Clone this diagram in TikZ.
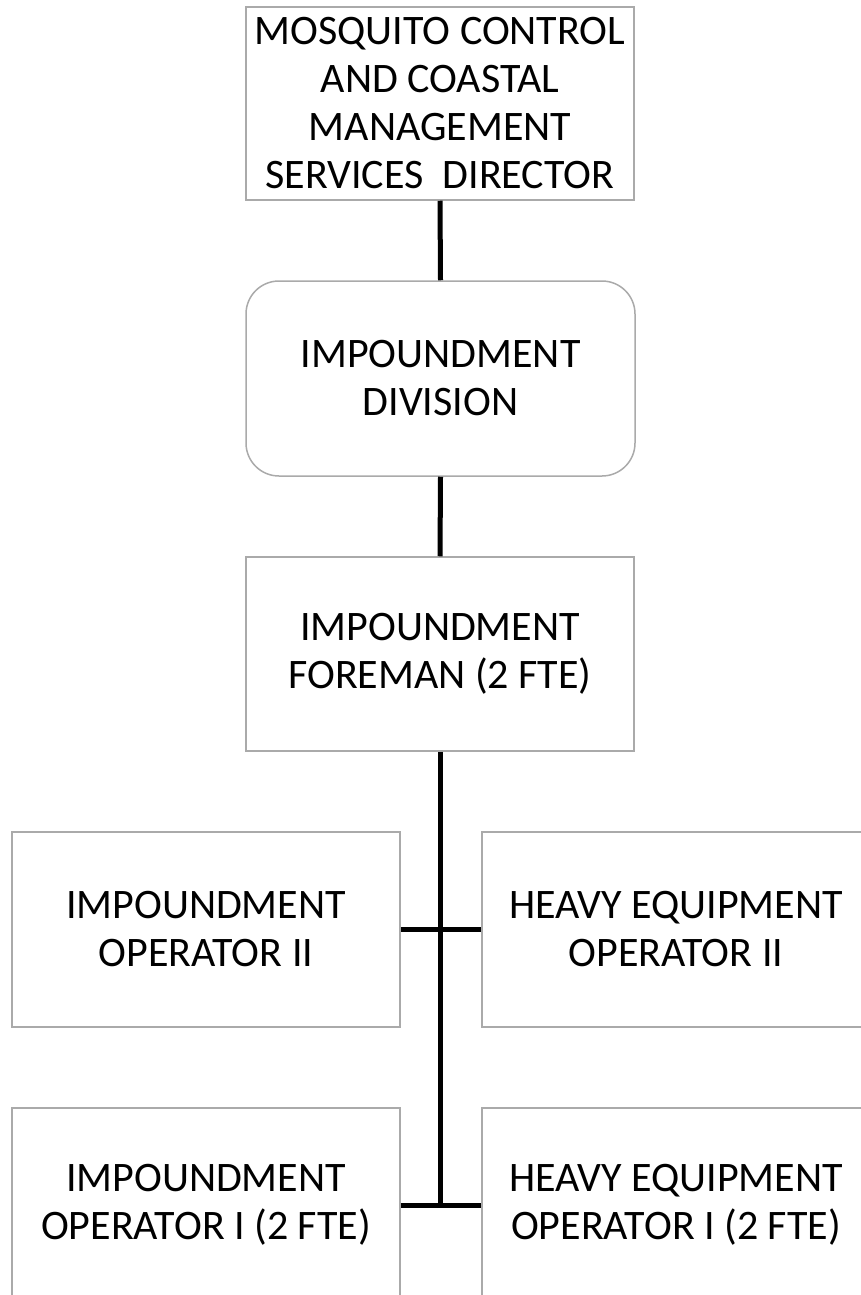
\documentclass[tikz,border=0pt]{standalone}
\usepackage{fontspec}
\setmainfont{Carlito}
\begin{document}
\begin{tikzpicture}[x=1pt,y=-1pt,
  orgbox/.style={draw=boxgray, line width=1.5pt, fill=white,
    minimum width=388pt, minimum height=194pt, inner sep=0pt,
    align=center, font=\fontsize{42}{48}\selectfont},
  link/.style={draw=black, line width=5pt}]
\definecolor{boxgray}{RGB}{170,170,170}
\clip (0,0) rectangle (861,1295);
\fill[white] (0,0) rectangle (861,1295);

% boxes
\node[orgbox, minimum height=193pt] (dir) at (440,103.5)
  {MOSQUITO CONTROL\\AND COASTAL\\MANAGEMENT\\SERVICES\ \ DIRECTOR};
\node[orgbox, rounded corners=33pt, minimum width=389pt, minimum height=195pt] (div) at (440.5,378.5)
  {IMPOUNDMENT\\DIVISION};
\node[orgbox] (fore) at (440,654) {IMPOUNDMENT\\FOREMAN (2 FTE)};
\node[orgbox, minimum height=195pt] (op2) at (206,929.5) {IMPOUNDMENT\\OPERATOR II};
\node[orgbox, minimum height=195pt] (heq2) at (676,929.5) {HEAVY EQUIPMENT\\OPERATOR II};
\node[orgbox] (op1) at (206,1205) {IMPOUNDMENT\\OPERATOR I (2 FTE)};
\node[orgbox] (heq1) at (676,1205) {HEAVY EQUIPMENT\\OPERATOR I (2 FTE)};

% connectors
\coordinate (spineend) at (fore.south |- op1.east);
\draw[link] (dir.south) -- (div.north);
\draw[link] (div.south) -- (fore.north);
\draw[link] (fore.south) -- (spineend);
\draw[link] (op2.east) -- (heq2.west);
\draw[link] (op1.east) -- (heq1.west);
\end{tikzpicture}
\end{document}
